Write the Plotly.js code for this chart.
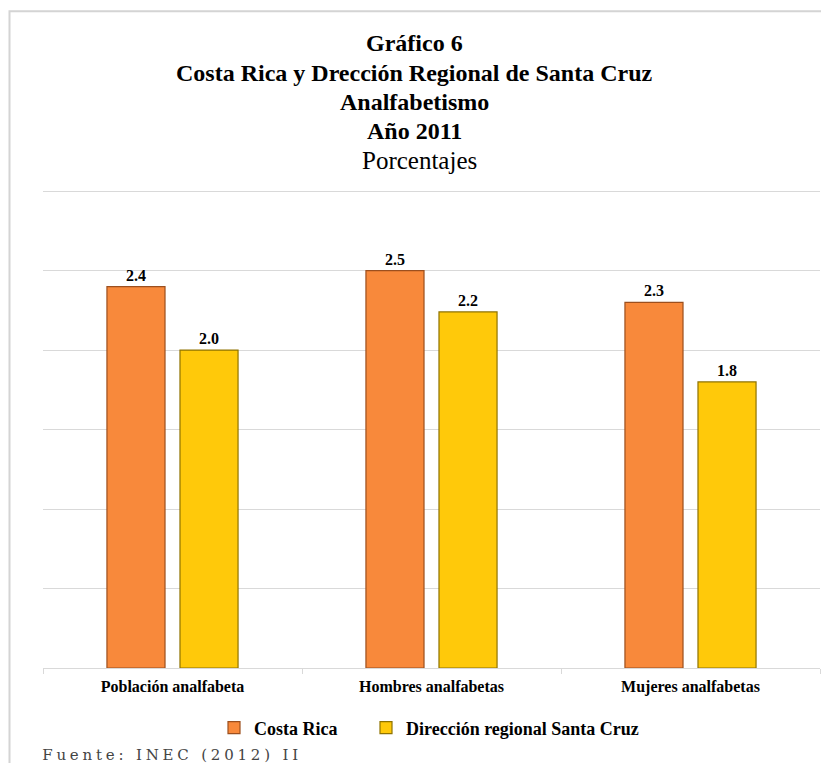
<!DOCTYPE html>
<html>
<head>
<meta charset="utf-8">
<script src="https://cdn.plot.ly/plotly-3.0.1.min.js"></script>
<style>
html,body{margin:0;padding:0;background:#fff;}
#chart{width:821px;height:763px;}
</style>
</head>
<body>
<div id="chart"></div>
<script>
const categories = ['Población analfabeta', 'Hombres analfabetas', 'Mujeres analfabetas'];
const costaRica = [2.4, 2.5, 2.3];
const santaCruz = [2.0, 2.24, 1.8];
const seriesNames = ['Costa Rica', 'Dirección regional Santa Cruz'];
const titleLines = ['Gráfico 6', 'Costa Rica y Drección Regional de Santa Cruz', 'Analfabetismo', 'Año 2011'];
const subtitle = 'Porcentajes';
const sourceText = 'Fuente: INEC (2012) II';

const serif = 'Liberation Serif, Times New Roman, serif';

// plot area geometry helpers (pixels -> paper)
const YMAX = 3.02;
const PL = 43, PW = 777, PB = 668, PH = 158.9 * YMAX;
const px = v => (v - PL) / PW;
const py = v => (PB - v) / PH;

const traces = [
  {
    type: 'bar', name: seriesNames[0], x: categories, y: costaRica, legend: 'legend',
    marker: {color: '#F8893B', line: {color: '#9C4F1E', width: 1.2}},
    texttemplate: '%{y:.1f}', textposition: 'outside', cliponaxis: false,
    textfont: {family: serif, size: 16, color: '#000', weight: 'bold'},
    hoverinfo: 'x+y'
  },
  {
    type: 'bar', name: seriesNames[1], x: categories, y: santaCruz, legend: 'legend2',
    marker: {color: '#FFC90A', line: {color: '#8F7300', width: 1.2}},
    texttemplate: '%{y:.1f}', textposition: 'outside', cliponaxis: false,
    textfont: {family: serif, size: 16, color: '#000', weight: 'bold'},
    hoverinfo: 'x+y'
  }
];

const titleY = [43, 73, 102, 131, 161];
const titleX = 414;
const annotations = titleLines.map((s, i) => ({
  text: '<b>' + s + '</b>', showarrow: false,
  xref: 'paper', yref: 'paper', x: px(titleX), xanchor: 'center',
  y: py(titleY[i]), yanchor: 'middle',
  font: {family: serif, size: 24, color: '#000'}
}));
annotations.push({
  text: subtitle, showarrow: false,
  xref: 'paper', yref: 'paper', x: px(titleX + 5), xanchor: 'center',
  y: py(titleY[4]), yanchor: 'middle',
  font: {family: serif, size: 25, color: '#000'}
});
annotations.push({
  text: sourceText, showarrow: false,
  xref: 'paper', yref: 'paper',
  x: px(43 + 39), xanchor: 'left',
  y: py(755), yanchor: 'middle',
  font: {family: 'DejaVu Serif, serif', size: 15, color: '#444'}
});

const legendFont = {family: serif, size: 18, color: '#000', weight: 'bold'};

const layout = {
  width: 821, height: 763,
  paper_bgcolor: '#fff', plot_bgcolor: '#fff',
  margin: {l: 43, r: 1, t: 668 - PH, b: 95},
  showlegend: true,
  title: {text: ''},
  bargap: 0.436,
  bargroupgap: 0.205,
  xaxis: {
    type: 'category',
    range: [-0.5, 2.5],
    showline: true, linecolor: '#d9d9d9', linewidth: 1,
    ticks: 'outside', tickson: 'boundaries', ticklen: 5, tickcolor: '#d9d9d9',
    ticklabelstandoff: 4,
    showgrid: false,
    tickfont: {family: serif, size: 16, color: '#000', weight: 'bold'},
    fixedrange: true
  },
  yaxis: {
    range: [0, YMAX],
    dtick: 0.5, tick0: 0,
    showgrid: true, gridcolor: '#d9d9d9', gridwidth: 1,
    showticklabels: false, zeroline: false, showline: false,
    fixedrange: true
  },
  legend: {
    orientation: 'h',
    x: px(214), xanchor: 'left',
    y: py(728), yanchor: 'middle',
    font: legendFont,
    bgcolor: 'rgba(0,0,0,0)'
  },
  legend2: {
    orientation: 'h',
    x: px(366), xanchor: 'left',
    y: py(728), yanchor: 'middle',
    font: legendFont,
    bgcolor: 'rgba(0,0,0,0)'
  },
  shapes: [
    {
      type: 'rect', xref: 'paper', yref: 'paper',
      x0: px(9.5), x1: 1.05,
      y0: py(800), y1: py(11.5),
      line: {color: '#d4d4d4', width: 2}, fillcolor: 'rgba(0,0,0,0)', layer: 'below'
    }
  ],
  annotations: annotations
};

Plotly.newPlot('chart', traces, layout, {displayModeBar: false, staticPlot: true}).then(function () {
  const anns = document.querySelectorAll('.annotation-text');
  const last = anns[anns.length - 1];
  if (last) last.style.letterSpacing = '3.8px';
});
</script>
</body>
</html>
